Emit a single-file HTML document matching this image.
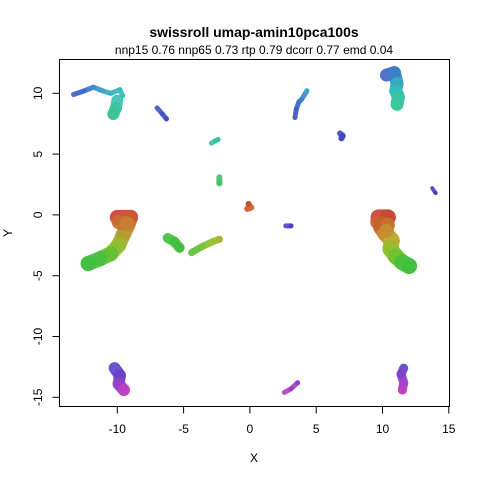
<!DOCTYPE html>
<html><head><meta charset="utf-8"><style>
html,body{margin:0;padding:0;background:#fff;}
svg{display:block;font-family:"Liberation Sans",Arial,sans-serif;}
</style></head><body>
<svg id="chart" width="480" height="480">
<text x="254" y="37" text-anchor="middle" font-weight="bold" font-size="14">swissroll umap-amin10pca100s</text>
<text x="254" y="54" text-anchor="middle" font-size="12">nnp15 0.76 nnp65 0.73 rtp 0.79 dcorr 0.77 emd 0.04</text>
<rect x="59.5" y="59.5" width="390" height="347" fill="none" stroke="#000"/>
<g id="marks"></g>
<g id="axes"></g>
<text x="254" y="462" text-anchor="middle" font-size="12">X</text>
<text x="12" y="233" text-anchor="middle" font-size="12" transform="rotate(-90 12 233)">Y</text>
</svg>
<script>
const xTicks = [-10, -5, 0, 5, 10, 15];
const yTicks = [-15, -10, -5, 0, 5, 10];
const clusterX = [
  [-13.3,-12.5,-11.8,-11.1,-10.5,-9.8,-9.6],
  [-10.0,-10.1,-10.3],
  [-7.0,-6.6,-6.3],
  [3.4,3.5,3.7,3.9,4.3],
  [10.3,10.9,11.1,11.0,11.2,11.1],
  [6.8,7.0,6.9],
  [-2.9,-2.6,-2.4],
  [-2.3,-2.3],
  [-0.2,0.1,-0.1],
  [2.7,3.1],
  [13.75,14.0],
  [-10.0,-9.0,-9.2,-9.5,-9.9,-10.5,-11.3,-12.2],
  [-9.9,-9.3],
  [-6.2,-5.7,-5.3],
  [-4.4,-3.6,-2.8,-2.3],
  [9.7,10.4,9.9,10.2,10.7,10.6,11.0,11.5,12.0],
  [9.6,10.4,10.3],
  [-10.2,-9.8,-9.9,-9.5],
  [2.6,3.1,3.6],
  [11.6,11.4,11.6,11.5]
];
const clusterY = [
  [9.9,10.2,10.5,10.2,10.0,10.3,9.8],
  [9.4,8.8,8.3],
  [8.8,8.3,7.9],
  [8.0,8.7,9.3,9.5,10.2],
  [11.5,11.7,10.8,10.2,9.7,9.1],
  [6.7,6.5,6.3],
  [5.9,6.1,6.2],
  [3.1,2.6],
  [0.5,0.6,0.9],
  [-0.9,-0.9],
  [2.2,1.8],
  [-0.2,-0.2,-0.8,-1.5,-2.5,-3.2,-3.6,-4.0],
  [-0.6,-0.7],
  [-1.9,-2.2,-2.7],
  [-3.1,-2.6,-2.2,-2.0],
  [-0.2,-0.2,-1.0,-1.5,-2.1,-2.8,-3.4,-3.9,-4.2],
  [-0.6,-0.8,-1.3],
  [-12.6,-13.2,-13.9,-14.4],
  [-14.6,-14.3,-13.8],
  [-12.6,-13.1,-13.8,-14.4]
];
const clusterColor = [
  ["#3c58c8","#3c70c8","#3c90c8","#38a8c4","#34b8c0","#36bcbc","#38c0b0"],
  ["#38c0b0","#3cc4a0","#40c490"],
  ["#4058c4","#4050c4","#4048c0"],
  ["#4050c4","#3c64c8","#3c74c8","#3c88c8","#38a8c0"],
  ["#3c64c8","#3c80c8","#34acc0","#34bcb8","#38c4a8","#3cc898"],
  ["#4048c0","#4048c0","#4048c0"],
  ["#38c098","#38c0a4","#38c0a8"],
  ["#40c070","#40c070"],
  ["#d05030","#d07030","#c84838"],
  ["#5040c8","#5040c8"],
  ["#4040c0","#4040c0"],
  ["#c84030","#c85a30","#c87c30","#b0a030","#90c030","#60c030","#48c040","#40c040"],
  ["#c87030","#c88030"],
  ["#40c040","#40c040","#40c040"],
  ["#58c038","#80c030","#a0c030","#b0b030"],
  ["#c84030","#c84830","#c87030","#c89030","#b8b030","#90c030","#70c030","#48c040","#40c040"],
  ["#c86030","#c87030","#c89030"],
  ["#5a40c8","#7040c8","#9840c8","#c040c0"],
  ["#b040c0","#a040c0","#9040c8"],
  ["#6040c8","#8040c8","#a840c8","#c040c0"]
];
const clusterWidth = [5,12,5,5,13,6,5,6,6,5,4,15,14,10,7,16,14,12,5,9];

const X0 = 249.9, XS = 13.26, Y0 = 214.9, YS = 12.16;
function sx(v){ return X0 + v * XS; }
function sy(v){ return Y0 - v * YS; }
const NS = "http://www.w3.org/2000/svg";
const marks = document.getElementById('marks');
for (let c = 0; c < clusterX.length; c++) {
  const g = document.createElementNS(NS, 'g');
  
  
  const xs = clusterX[c], ys = clusterY[c], cs = clusterColor[c], w = clusterWidth[c];
  for (let i = 0; i < xs.length; i++) {
    const j = Math.min(i + 1, xs.length - 1);
    const ln = document.createElementNS(NS, 'line');
    ln.setAttribute('x1', sx(xs[i])); ln.setAttribute('y1', sy(ys[i]));
    ln.setAttribute('x2', sx(xs[j])); ln.setAttribute('y2', sy(ys[j]));
    ln.setAttribute('stroke', cs[i]);
    ln.setAttribute('stroke-width', w);
    ln.setAttribute('stroke-linecap', 'round');
    ln.setAttribute('opacity', '0.9');
    
    
    g.appendChild(ln);
  }
  marks.appendChild(g);
}
const axes = document.getElementById('axes');
function add(tag, attrs, text){
  const e = document.createElementNS(NS, tag);
  for (const k in attrs) e.setAttribute(k, attrs[k]);
  if (text !== undefined) e.textContent = text;
  axes.appendChild(e); return e;
}
let xl = add('line', {x1: sx(xTicks[0]), x2: sx(xTicks[xTicks.length-1]), y1: 406.5, y2: 406.5, stroke: '#000'});


for (const t of xTicks) {
  const tk = add('line', {x1: sx(t), x2: sx(t), y1: 406.5, y2: 413.5, stroke: '#000'});
  
  
  const lb = add('text', {x: sx(t), y: 433, 'text-anchor': 'middle', 'font-size': 12}, String(t));
  
  
}
let yl = add('line', {x1: 59.5, x2: 59.5, y1: sy(yTicks[0]), y2: sy(yTicks[yTicks.length-1]), stroke: '#000'});


for (const t of yTicks) {
  const tk = add('line', {x1: 52.5, x2: 59.5, y1: sy(t), y2: sy(t), stroke: '#000'});
  
  
  const lb = add('text', {x: 42, y: sy(t), 'text-anchor': 'middle', 'font-size': 12, transform: 'rotate(-90 42 ' + sy(t) + ')'}, String(t));
  
  
}
</script>
</body></html>
